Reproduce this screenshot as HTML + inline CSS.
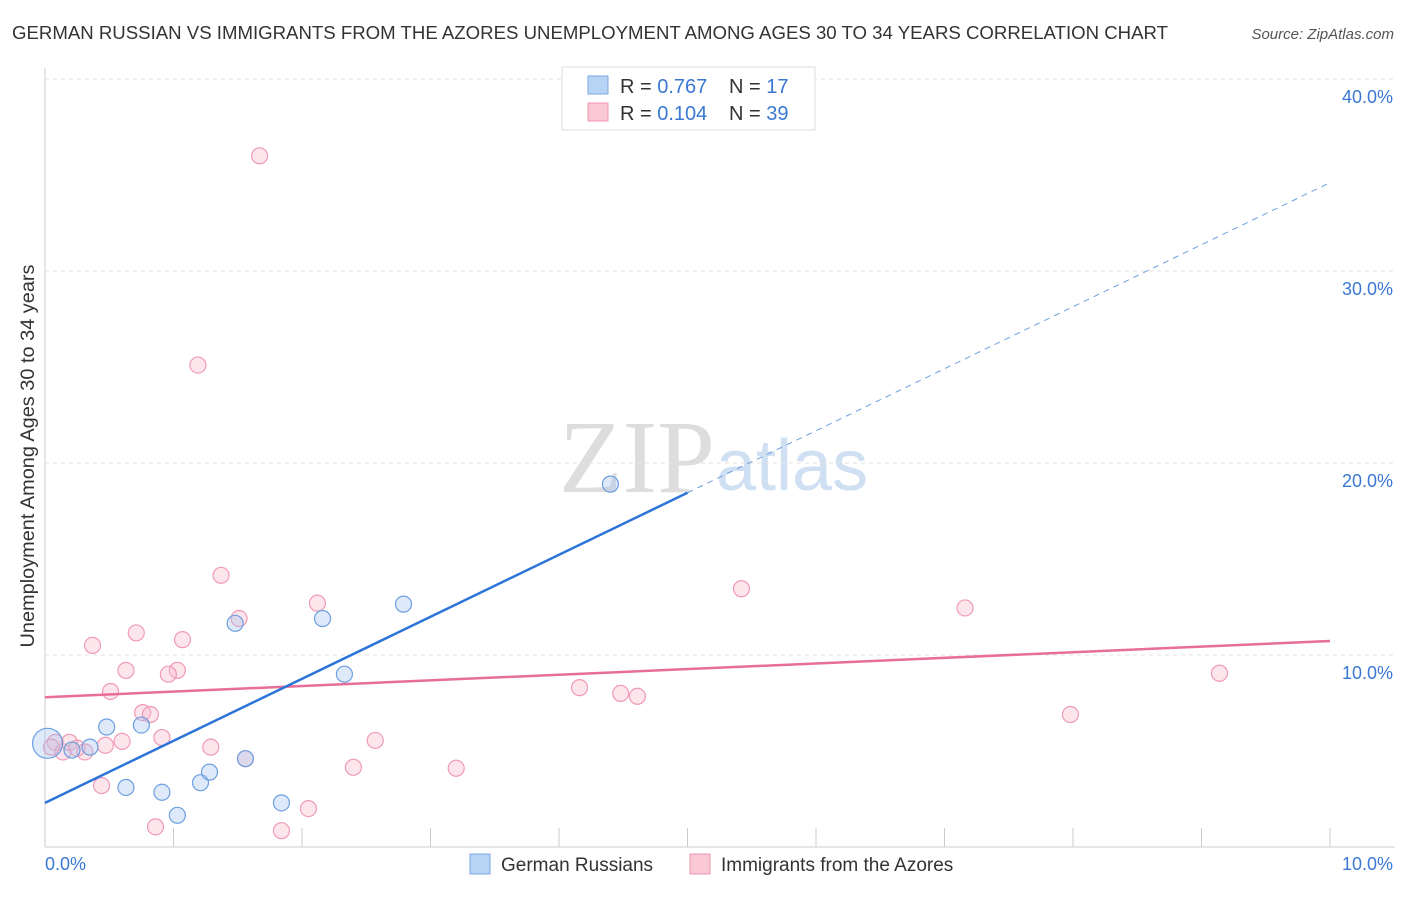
<!DOCTYPE html>
<html><head><meta charset="utf-8"><style>
body{margin:0;background:#fff;font-family:"Liberation Sans",sans-serif}
</style></head><body>
<svg width="1406" height="892" xmlns="http://www.w3.org/2000/svg" font-family="Liberation Sans, sans-serif">
<text x="12" y="39" font-size="18" fill="#333" textLength="1156" lengthAdjust="spacingAndGlyphs">GERMAN RUSSIAN VS IMMIGRANTS FROM THE AZORES UNEMPLOYMENT AMONG AGES 30 TO 34 YEARS CORRELATION CHART</text>
<text x="1394" y="39" font-size="15" fill="#555" font-style="italic" text-anchor="end">Source: ZipAtlas.com</text>
<text x="715" y="492" font-size="104" fill="#ddd" font-family="Liberation Serif, serif" text-anchor="end">ZIP</text>
<text x="716" y="490" font-size="72" fill="#cfe0f3">atlas</text>
<g id="grid"></g><g id="marks"></g>
<text transform="translate(34,456) rotate(-90)" font-size="19" fill="#333" text-anchor="middle" textLength="383" lengthAdjust="spacingAndGlyphs">Unemployment Among Ages 30 to 34 years</text>
<g>
<rect x="562" y="67" width="253" height="63" fill="#fff" stroke="#ddd"/>
<rect x="588" y="76" width="20" height="18" fill="#b8d4f5" stroke="#7aa8e0"/>
<rect x="588" y="103" width="20" height="18" fill="#fbc8d6" stroke="#ee9ab5"/>
<text x="620" y="93" font-size="20" fill="#333">R = <tspan fill="#3a78d4">0.767</tspan></text>
<text x="729" y="93" font-size="20" fill="#333">N = <tspan fill="#3a78d4">17</tspan></text>
<text x="620" y="120" font-size="20" fill="#333">R = <tspan fill="#3a78d4">0.104</tspan></text>
<text x="729" y="120" font-size="20" fill="#333">N = <tspan fill="#3a78d4">39</tspan></text>
</g>
<g>
<rect x="470" y="854" width="20" height="20" fill="#b8d4f5" stroke="#7aa8e0"/>
<text x="501" y="871" font-size="19" fill="#333">German Russians</text>
<rect x="690" y="854" width="20" height="20" fill="#fbc8d6" stroke="#ee9ab5"/>
<text x="721" y="871" font-size="19" fill="#333">Immigrants from the Azores</text>
</g>
</svg>
<script>
const blueX=[0.02,0.21,0.35,0.48,0.63,0.75,0.91,1.03,1.21,1.28,1.48,1.56,1.84,2.16,2.33,2.79,4.40];
const blueY=[5.4,5.05,5.2,6.25,3.1,6.35,2.85,1.65,3.35,3.9,11.65,4.6,2.3,11.9,9.0,12.65,18.9];
const pinkX=[1.67,1.19,1.37,1.51,2.12,0.71,1.07,0.37,0.63,1.03,0.96,0.51,0.76,0.82,0.91,0.60,0.47,0.08,0.14,0.19,0.25,0.31,1.29,1.56,2.57,2.40,0.44,0.86,1.84,2.05,3.20,4.16,4.48,4.61,5.42,7.16,7.98,9.14,0.05];
const pinkY=[36.0,25.1,14.15,11.9,12.7,11.15,10.8,10.5,9.2,9.2,9.0,8.1,7.0,6.9,5.7,5.5,5.3,5.45,4.95,5.45,5.15,4.95,5.2,4.6,5.55,4.15,3.2,1.05,0.85,2.0,4.1,8.3,8.0,7.85,13.45,12.45,6.9,9.05,5.2];
const blueLine=[2.3,3.23]; // intercept, slope
const pinkLine=[7.8,0.293];
const yTicks=[10,20,30,40];
const yTickLabels=["10.0%","20.0%","30.0%","40.0%"];
const xTicks=[0,1,2,3,4,5,6,7,8,9,10];
const NS="http://www.w3.org/2000/svg";
const X=v=>45+v*128.5, Y=v=>847-v*19.2;
function mk(p,t,a){const e=document.createElementNS(NS,t);for(const k in a)e.setAttribute(k,a[k]);p.appendChild(e);return e;}
const g=document.getElementById('grid'),m=document.getElementById('marks');
yTicks.forEach((t,i)=>{
 const l=mk(g,'line',{x1:45,x2:1395,y1:Y(t),y2:Y(t),stroke:'#e2e2e2','stroke-dasharray':'4,4'});
 
 
 const tx=mk(g,'text',{x:1393,y:Y(t)+24,'font-size':18,fill:'#3a78d4','text-anchor':'end'});
 tx.textContent=yTickLabels[i];
 
 
});
mk(g,'line',{x1:45,x2:45,y1:68,y2:847,stroke:'#ccc'});
mk(g,'line',{x1:45,x2:1395,y1:847,y2:847,stroke:'#ccc'});
xTicks.forEach(t=>{const l=mk(g,'line',{x1:X(t),x2:X(t),y1:828,y2:847,stroke:'#ccc'});
 
 });
const a=mk(g,'text',{x:45,y:870,'font-size':18,fill:'#3a78d4'});a.textContent='0.0%';


const b=mk(g,'text',{x:1393,y:870,'font-size':18,fill:'#3a78d4','text-anchor':'end'});b.textContent='10.0%';


pinkX.forEach((x,i)=>{const c=mk(m,'circle',{cx:X(x),cy:Y(pinkY[i]),r:8,fill:'rgba(248,180,200,0.35)',stroke:'#ef9ab6','stroke-width':1.2});
 
 });
blueX.forEach((x,i)=>{const c=mk(m,'circle',{cx:X(x),cy:Y(blueY[i]),r:i==0?15:8,fill:'rgba(160,195,240,0.35)',stroke:'#6d9fe0','stroke-width':1.2});
 
 });
const pl=mk(m,'line',{x1:X(0),y1:Y(pinkLine[0]),x2:X(10),y2:Y(pinkLine[0]+10*pinkLine[1]),stroke:'#e86d97','stroke-width':2.5});


const bl=mk(m,'line',{x1:X(0),y1:Y(blueLine[0]),x2:X(5),y2:Y(blueLine[0]+5*blueLine[1]),stroke:'#2d74d8','stroke-width':2.5});


const bd=mk(m,'line',{x1:X(5),y1:Y(blueLine[0]+5*blueLine[1]),x2:X(10),y2:Y(blueLine[0]+10*blueLine[1]),stroke:'#6d9fe0','stroke-width':1,'stroke-dasharray':'6,5'});


</script>
</body></html>
